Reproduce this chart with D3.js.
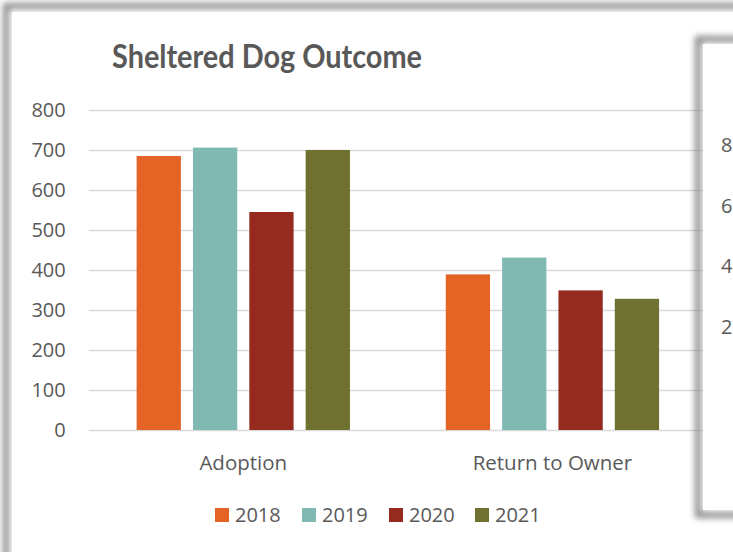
<!DOCTYPE html>
<html><head><meta charset="utf-8">
<script src="https://cdn.jsdelivr.net/npm/d3@7/dist/d3.min.js"></script>
<style>body{margin:0;background:#fff;}svg{display:block;}</style>
</head><body>
<script>
const title = "Sheltered Dog Outcome";
const categories = ["Adoption", "Return to Owner"];
const years = ["2018", "2019", "2020", "2021"];
const values2018 = [685, 389];
const values2019 = [706, 431];
const values2020 = [545, 349];
const values2021 = [700, 328];
const yTicks = [0, 100, 200, 300, 400, 500, 600, 700, 800];
const colors = ["#E36425", "#7FB9B2", "#952A1F", "#6E712F"];
const secondTicks = ["8", "6", "4", "2"];
const secondTickValues = [800, 600, 400, 200];

const series = [values2018, values2019, values2020, values2021];
const W = 733, H = 552;
const svg = d3.select("body").append("svg").attr("width", W).attr("height", H);
const defs = svg.append("defs");
const f = defs.append("filter").attr("id", "blur").attr("x", "-10%").attr("y", "-10%").attr("width", "120%").attr("height", "120%");
f.append("feGaussianBlur").attr("stdDeviation", 3);

svg.append("rect").attr("width", W).attr("height", H).attr("fill", "#fff");
// main chart frame shadow
svg.append("rect").attr("x", 6).attr("y", 6).attr("width", 900).attr("height", 800)
  .attr("fill", "none").attr("stroke", "#8a8a8a").attr("stroke-width", 6).attr("filter", "url(#blur)");
svg.append("rect").attr("x", 12).attr("y", 12).attr("width", 900).attr("height", 800).attr("fill", "#fff");

const textColor = "#595959";
const font = "'Open Sans', sans-serif";

const y = d3.scaleLinear().domain([0, 800]).range([430, 110]);
const x0 = d3.scaleBand().domain(categories).range([88.7, 707]).paddingInner(0.31).paddingOuter(0.155);
const x1 = d3.scaleBand().domain(years).range([0, x0.bandwidth()]).paddingInner(0.214);

// gridlines
const yAxis = d3.axisLeft(y).tickValues(yTicks).tickSize(-(707 - 88.7)).tickPadding(23);
const ga = svg.append("g").attr("transform", "translate(88.7,0)").call(yAxis);
ga.select(".domain").remove();
ga.selectAll(".tick line").attr("stroke", "#d9d9d9").attr("stroke-width", 1.3);
ga.selectAll(".tick text").attr("fill", textColor).attr("font-family", font).attr("font-size", 20);

// bars
const groups = svg.append("g").selectAll("g").data(categories).join("g")
  .attr("transform", d => `translate(${x0(d)},0)`);
groups.selectAll("rect").data((c, ci) => years.map((yr, si) => ({yr, v: series[si][ci], si})))
  .join("rect")
  .attr("x", d => x1(d.yr)).attr("width", x1.bandwidth())
  .attr("y", d => y(d.v)).attr("height", d => y(0) - y(d.v))
  .attr("fill", d => colors[d.si]);

// category axis labels
const xAxis = d3.axisBottom(x0).tickSize(0).tickPadding(25);
const gx = svg.append("g").attr("transform", "translate(0,430)").call(xAxis);
gx.select(".domain").remove();
gx.selectAll(".tick text").attr("fill", textColor).attr("font-family", font).attr("font-size", 20.5);

// title
svg.append("text").attr("x", 267).attr("y", 68).attr("text-anchor", "middle")
  .attr("font-family", "'Lato', sans-serif").attr("font-weight", "bold").attr("font-size", 33)
  .attr("textLength", 310).attr("lengthAdjust", "spacingAndGlyphs")
  .attr("fill", textColor).text(title);

// legend
const legX = [215, 302, 389, 475];
const lg = svg.append("g").selectAll("g").data(years).join("g")
  .attr("transform", (d, i) => `translate(${legX[i]},508)`);
lg.append("rect").attr("width", 14).attr("height", 14).attr("fill", (d, i) => colors[i]);
lg.append("text").attr("x", 20).attr("y", 14).attr("fill", textColor).attr("font-family", font)
  .attr("font-size", 20).text(d => d);

// second chart (partially visible)
svg.append("rect").attr("x", 698).attr("y", 39).attr("width", 100).attr("height", 476)
  .attr("fill", "none").attr("stroke", "#8a8a8a").attr("stroke-width", 6).attr("filter", "url(#blur)");
svg.append("rect").attr("x", 703).attr("y", 44).attr("width", 100).attr("height", 466).attr("fill", "#fff");
const y2 = d3.scaleLinear().domain([200, 800]).range([327, 145]);
svg.append("g").selectAll("text").data(secondTicks).join("text")
  .attr("x", 721).attr("y", (d, i) => y2(secondTickValues[i])).attr("dy", "0.35em")
  .attr("fill", textColor).attr("font-family", font).attr("font-size", 20).text(d => d);
</script>
</body></html>
